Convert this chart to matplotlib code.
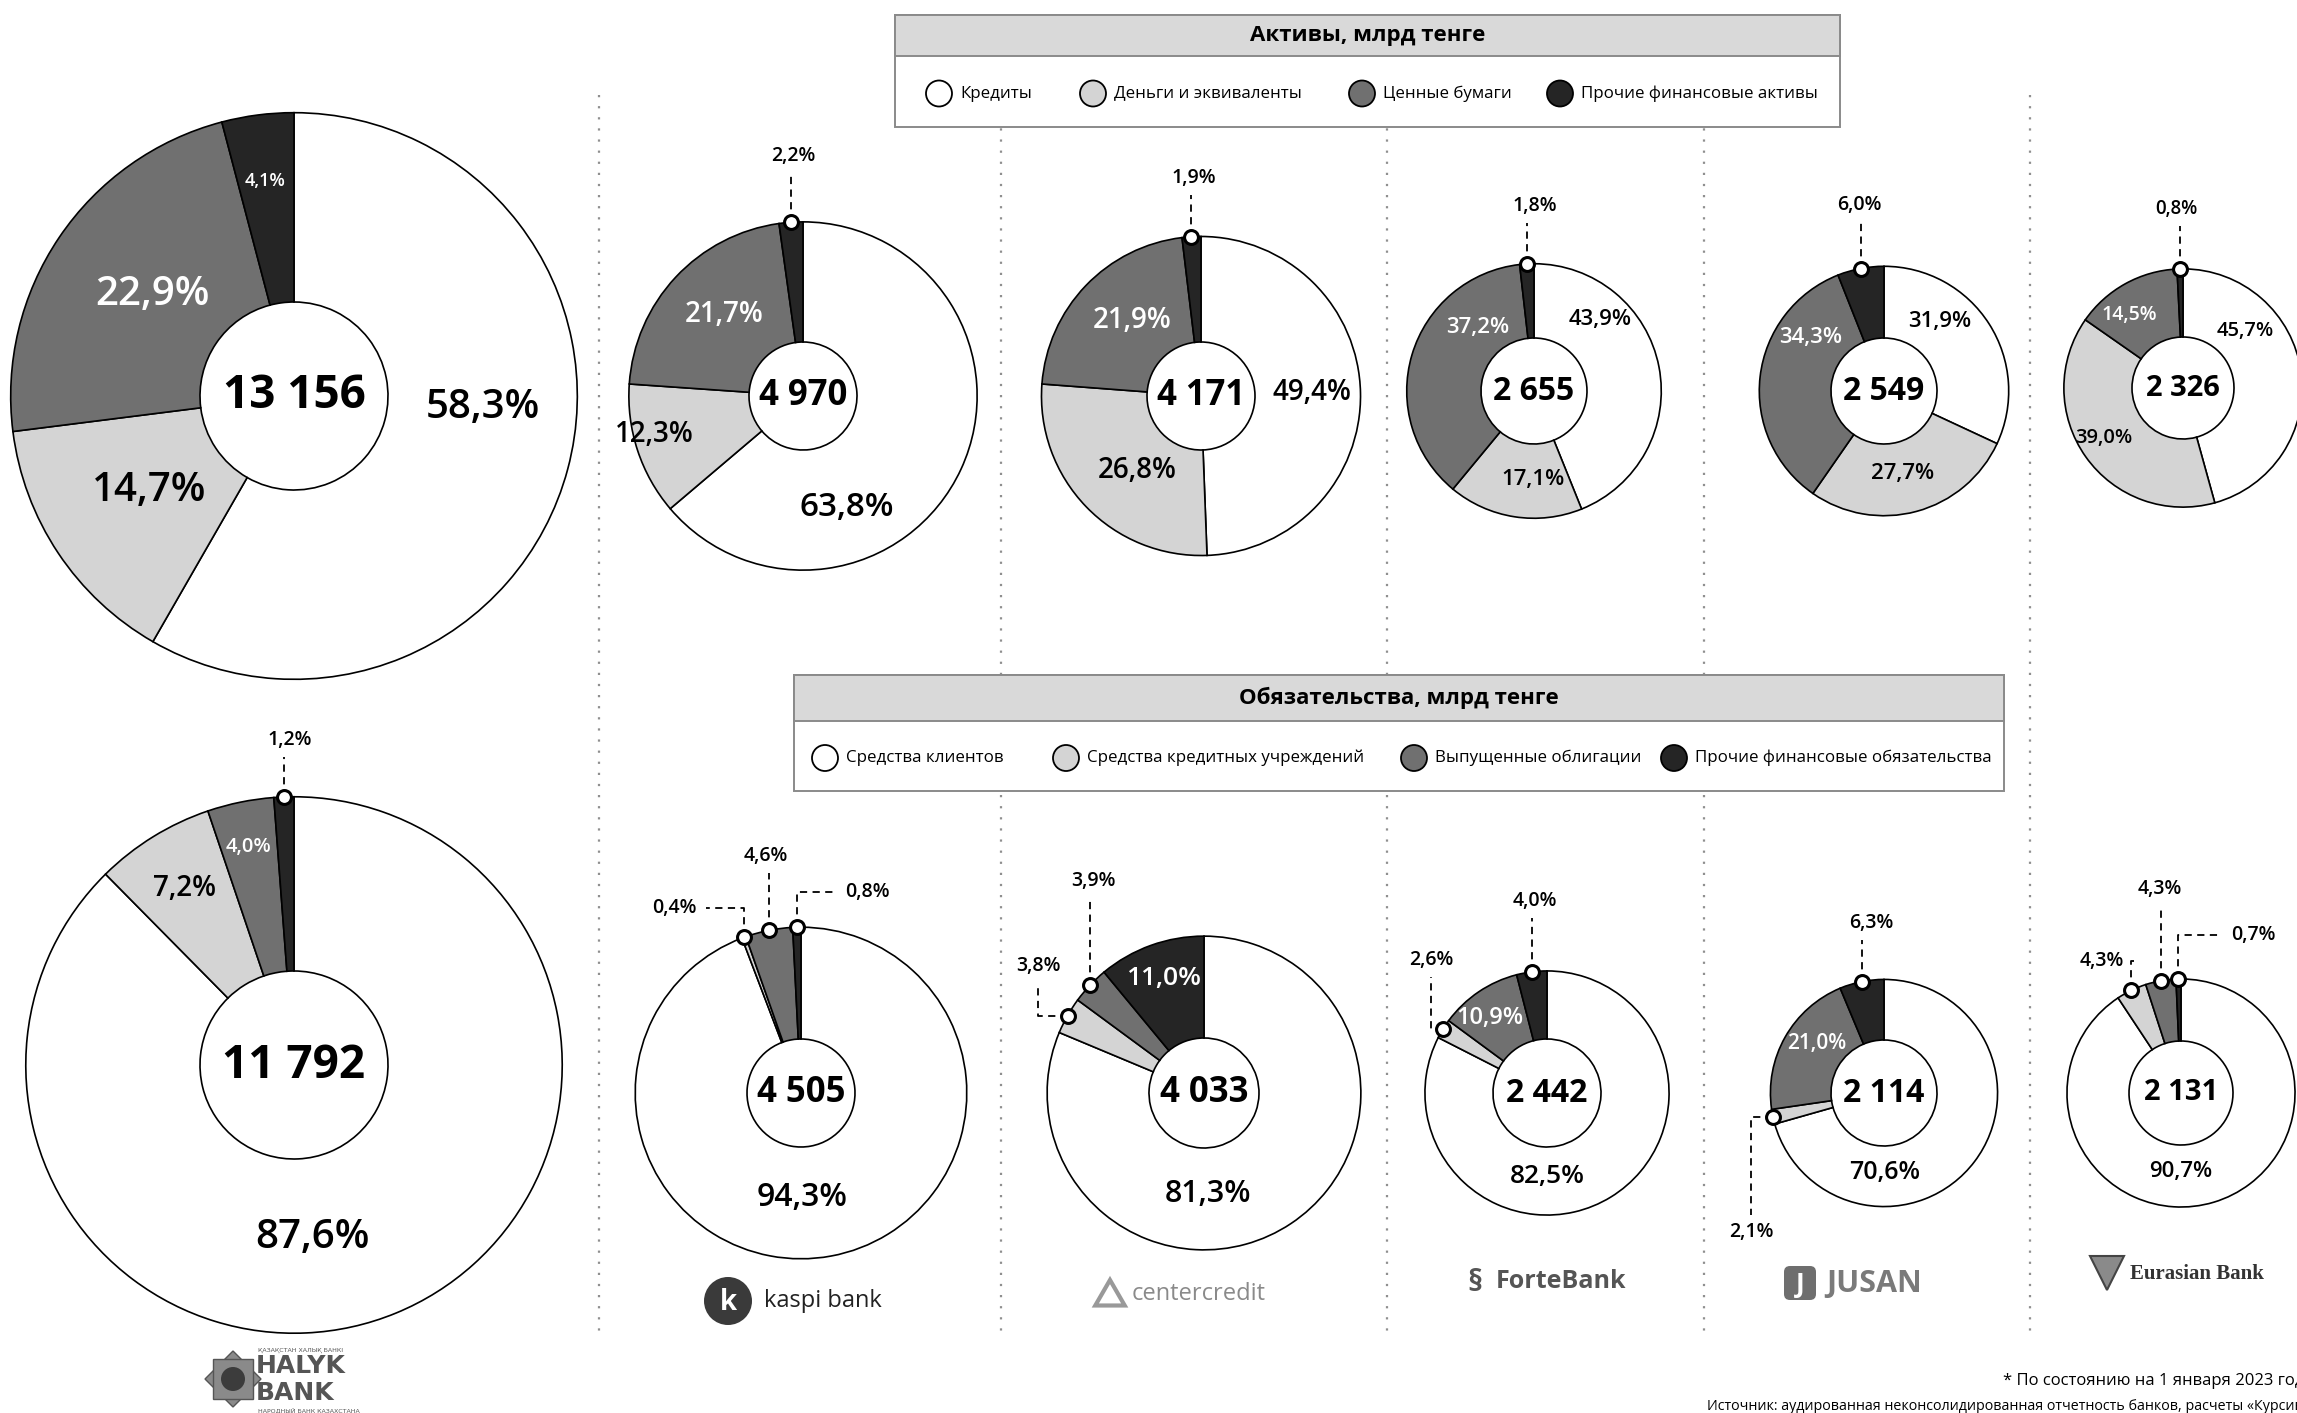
import numpy as np
import matplotlib
matplotlib.use("Agg")
import matplotlib.pyplot as plt
from matplotlib import font_manager
from matplotlib.patches import Rectangle, Circle, FancyBboxPatch, RegularPolygon

W, H = 2297, 1413

# --- data -------------------------------------------------------------
banks = ["Halyk Bank", "Kaspi Bank", "Bank CenterCredit", "ForteBank", "Jusan Bank", "Eurasian Bank"]

asset_labels = ["Кредиты", "Деньги и эквиваленты", "Ценные бумаги", "Прочие финансовые активы"]
asset_totals = [13156, 4970, 4171, 2655, 2549, 2326]
asset_shares = [
    [58.3, 14.7, 22.9, 4.1],
    [63.8, 12.3, 21.7, 2.2],
    [49.4, 26.8, 21.9, 1.9],
    [43.9, 17.1, 37.2, 1.8],
    [31.9, 27.7, 34.3, 6.0],
    [45.7, 39.0, 14.5, 0.8],
]

liab_labels = ["Средства клиентов", "Средства кредитных учреждений",
               "Выпущенные облигации", "Прочие финансовые обязательства"]
liab_totals = [11792, 4505, 4033, 2442, 2114, 2131]
liab_shares = [
    [87.6, 7.2, 4.0, 1.2],
    [94.3, 0.4, 4.6, 0.8],
    [81.3, 3.8, 3.9, 11.0],
    [82.5, 2.6, 10.9, 4.0],
    [70.6, 2.1, 21.0, 6.3],
    [90.7, 4.3, 4.3, 0.7],
]

# --- layout (pixels, y grows downward) -------------------------------
K = 2.47  # donut radius = K * sqrt(total)
slice_colors = ["#ffffff", "#d4d4d4", "#707070", "#252525"]

asset_centers = [(294, 396), (803, 396), (1201, 396), (1534, 391), (1884, 391), (2183, 388)]
liab_centers = [(294, 1065), (801, 1093), (1204, 1093), (1547, 1093), (1884, 1093), (2181, 1093)]
asset_holes = [94, 54, 54, 53, 53, 51]
liab_holes = [94, 54, 55, 54, 53, 52]
asset_center_fs = [33, 25, 25, 23, 23, 21]
liab_center_fs = [33, 25, 25, 23, 23, 21]

# ("in", dx, dy, size) or ("out", dx, dy, size, route)
asset_label_pos = [
    [("in", 189, 12, 29), ("in", -145, 95, 29), ("in", -142, -101, 29), ("in", -29, -215, 13)],
    [("in", 44, 111, 24), ("in", -149, 38, 20), ("in", -79, -81, 20), ("out", -10, -240, 14, "v")],
    [("in", 111, -3, 20), ("in", -64, 75, 20), ("in", -69, -76, 20), ("out", -7, -218, 14, "v")],
    [("in", 66, -72, 16), ("in", -1, 89, 16), ("in", -56, -63, 16), ("out", 1, -185, 14, "v")],
    [("in", 56, -69, 16), ("in", 19, 82, 16), ("in", -73, -53, 16), ("out", -25, -186, 14, "v")],
    [("in", 62, -57, 14.5), ("in", -79, 50, 14.5), ("in", -54, -73, 14), ("out", -7, -179, 13.5, "v")],
]
liab_label_pos = [
    [("in", 18, 173, 29), ("in", -110, -177, 20), ("in", -45, -218, 14.5), ("out", -4, -325, 14, "v")],
    [("in", 1, 105, 23), ("out", -127, -185, 14, "vh"), ("out", -35, -237, 14, "v"), ("out", 66, -201, 14, "vh")],
    [("in", 4, 101, 22), ("out", -166, -127, 14, "hv"), ("out", -111, -212, 14, "v"), ("in", -40, -114, 19)],
    [("in", 0, 84, 19), ("out", -116, -133, 14, "hv"), ("in", -57, -75, 17), ("out", -12, -192, 14, "v")],
    [("in", 1, 79, 18), ("out", -133, 139, 14, "hv"), ("in", -67, -50, 15), ("out", -13, -170, 14, "v")],
    [("in", 0, 78, 16), ("out", -79, -132, 14, "vh"), ("out", -21, -204, 14, "v"), ("out", 72, -158, 14, "vh")],
]

separators_x = [599, 1001, 1387, 1704, 2030]

installed = {f.name for f in font_manager.fontManager.ttflist}
narrow = "Liberation Sans Narrow" if "Liberation Sans Narrow" in installed else None
plt.rcParams["font.family"] = ["Open Sans", "DejaVu Sans"]
legend_family = [narrow, "DejaVu Sans"] if narrow else ["Open Sans", "DejaVu Sans"]
legend_fs = 15 if narrow else 12.2
title_fs = 20 if narrow else 16


def pct(v):
    return f"{v:.1f}".replace(".", ",") + "%"


def total_str(v):
    return f"{v:,}".replace(",", " ")


fig = plt.figure(figsize=(W / 100, H / 100), dpi=100)
ax = fig.add_axes([0, 0, 1, 1])


def draw_donut(center, total, shares, hole, center_fs, labels):
    cx, cy = center
    r = K * np.sqrt(total)
    ax.pie(shares, radius=r, center=(cx, cy), startangle=-90, counterclock=True,
           colors=slice_colors,
           wedgeprops=dict(width=r - hole, edgecolor="black", linewidth=1.2))
    ax.text(cx, cy, total_str(total), ha="center", va="center",
            fontsize=center_fs, fontweight="bold", zorder=6)
    frac = np.array(shares) / np.sum(shares)
    mids = np.cumsum(frac) - frac / 2
    for i, (v, spec) in enumerate(zip(shares, labels)):
        kind, dx, dy, size = spec[:4]
        lx, ly = cx + dx, cy + dy
        if kind == "in":
            color = "white" if i >= 2 else "black"
            ax.text(lx, ly, pct(v), ha="center", va="center", fontsize=size,
                    fontweight="semibold", color=color, zorder=6)
            continue
        route = spec[4]
        th = np.deg2rad(-90 + 360 * mids[i])
        mx, my = cx + r * np.cos(th), cy + r * np.sin(th)
        if route == "v":
            xs, ys = [mx, mx], [my, ly + 17]
        elif route == "vh":
            side = np.sign(mx - lx)
            xs, ys = [mx, mx, lx + side * 32], [my, ly, ly]
        else:
            side = np.sign(my - ly)
            xs, ys = [mx, lx, lx], [my, my, ly + side * 17]
        ax.plot(xs, ys, color="black", lw=1.3, ls=(0, (4, 3)), zorder=4)
        ax.plot(mx, my, "o", ms=10, mfc="white", mec="black", mew=2.2, zorder=5)
        ax.text(lx, ly, pct(v), ha="center", va="center", fontsize=size,
                fontweight="semibold", zorder=6)


# dotted separators between banks
for x in separators_x:
    ax.plot([x, x], [95, 1336], color="#8f8f8f", lw=1.6, ls=(0, (1, 4)), zorder=0)

for i in range(len(banks)):
    draw_donut(asset_centers[i], asset_totals[i], asset_shares[i], asset_holes[i],
               asset_center_fs[i], asset_label_pos[i])
    draw_donut(liab_centers[i], liab_totals[i], liab_shares[i], liab_holes[i],
               liab_center_fs[i], liab_label_pos[i])


def legend_box(x0, x1, y0, yh, y1, title, names, xs):
    ax.add_patch(Rectangle((x0, y0), x1 - x0, y1 - y0, facecolor="white",
                           edgecolor="#8a8a8a", lw=1.4, zorder=7))
    ax.add_patch(Rectangle((x0, y0), x1 - x0, yh - y0, facecolor="#d9d9d9",
                           edgecolor="#8a8a8a", lw=1.4, zorder=7))
    ax.text((x0 + x1) / 2, (y0 + yh) / 2, title, ha="center", va="center",
            fontsize=title_fs, fontweight="bold", family=legend_family, zorder=8)
    ym = (yh + y1) / 2 + 2
    for name, color, x in zip(names, slice_colors, xs):
        ax.add_patch(Circle((x, ym), 13, facecolor=color, edgecolor="black", lw=1.3, zorder=8))
        ax.text(x + 21, ym, name, ha="left", va="center", fontsize=legend_fs,
                family=legend_family, zorder=8)


legend_box(895, 1840, 15, 56, 127, "Активы, млрд тенге", asset_labels, [939, 1093, 1362, 1560])
legend_box(794, 2004, 675, 721, 791, "Обязательства, млрд тенге", liab_labels, [825, 1066, 1414, 1674])

# bank marks
ax.add_patch(Circle((728, 1301), 24, facecolor="#3a3a3a", edgecolor="none"))
ax.text(728, 1302, "k", ha="center", va="center", fontsize=20, fontweight="bold", color="white")
ax.text(764, 1301, "kaspi bank", ha="left", va="center", fontsize=17, color="#222222")

ax.add_patch(RegularPolygon((1110, 1297), 3, radius=17, orientation=np.pi,
                            facecolor="none", edgecolor="#999999", lw=3))
ax.text(1132, 1294, "centercredit", ha="left", va="center", fontsize=17, color="#8a8a8a")

ax.text(1475, 1283, "§", ha="center", va="center", fontsize=22, fontweight="bold", color="#555555")
ax.text(1496, 1282, "ForteBank", ha="left", va="center", fontsize=18, fontweight="bold", color="#555555")

ax.add_patch(FancyBboxPatch((1784, 1266), 32, 34, boxstyle="round,pad=0,rounding_size=6",
                            facecolor="#6e6e6e", edgecolor="none"))
ax.text(1800, 1284, "J", ha="center", va="center", fontsize=19, fontweight="bold", color="white")
ax.text(1826, 1284, "JUSAN", ha="left", va="center", fontsize=22, fontweight="bold", color="#7a7a7a")

ax.plot(2107, 1273, "v", ms=24, mfc="#8a8a8a", mec="#444444", mew=1.5)
ax.text(2130, 1274, "Eurasian Bank", ha="left", va="center", fontsize=15, fontweight="bold",
        family=["Liberation Serif", "DejaVu Serif"], color="#333333")

ax.add_patch(RegularPolygon((233, 1379), 4, radius=28, orientation=0, facecolor="#8a8a8a", edgecolor="#555555"))
ax.add_patch(RegularPolygon((233, 1379), 4, radius=28, orientation=np.pi / 4, facecolor="#8a8a8a", edgecolor="#555555"))
ax.add_patch(Circle((233, 1379), 12, facecolor="#3c3c3c", edgecolor="none"))
ax.text(258, 1350, "ҚАЗАҚСТАН ХАЛЫҚ БАНКІ", ha="left", va="center", fontsize=4.5, color="#555555",
        family=["DejaVu Sans"])
ax.text(256, 1366, "HALYK", ha="left", va="center", fontsize=18, fontweight="bold",
        family=["DejaVu Sans"], color="#555555")
ax.text(256, 1393, "BANK", ha="left", va="center", fontsize=18, fontweight="bold",
        family=["DejaVu Sans"], color="#555555")
ax.text(258, 1410, "НАРОДНЫЙ БАНК КАЗАХСТАНА", ha="left", va="center", fontsize=4.5, color="#555555",
        family=["DejaVu Sans"])

# footnotes
ax.text(2003, 1381, "* По состоянию на 1 января 2023 года", ha="left", va="center",
        fontsize=12, family=legend_family)
ax.text(1707, 1406, "Источник: аудированная неконсолидированная отчетность банков, расчеты «Курсива»",
        ha="left", va="center", fontsize=10.3, family=legend_family)

ax.set_xlim(0, W)
ax.set_ylim(H, 0)
ax.set_aspect("equal")
ax.axis("off")

fig.savefig("out.png", dpi=100)
